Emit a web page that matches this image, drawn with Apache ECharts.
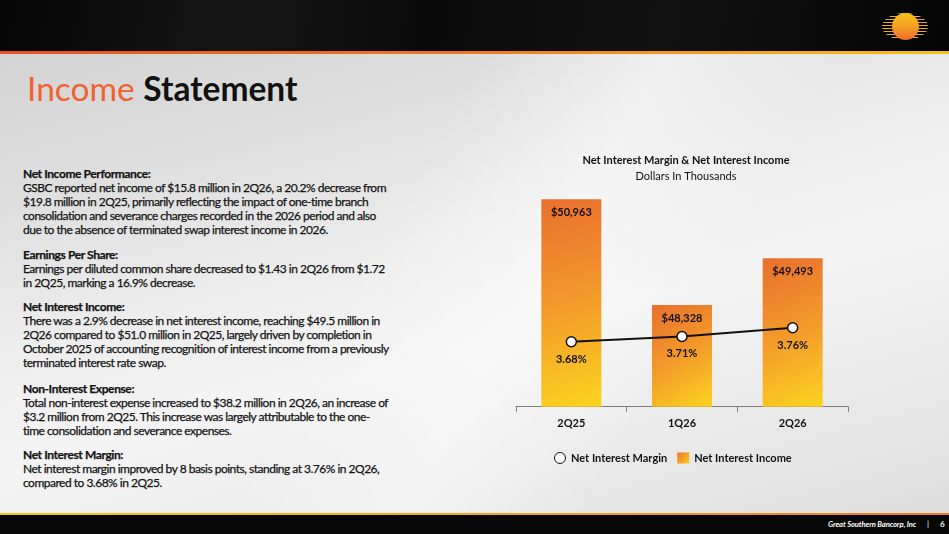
<!DOCTYPE html>
<html>
<head>
<meta charset="utf-8">
<script src="https://cdn.jsdelivr.net/npm/echarts@6/dist/echarts.min.js"></script>
<style>
  html, body { margin:0; padding:0; width:949px; height:534px; overflow:hidden; }
  body { position:relative; font-family: Lato, "Open Sans", sans-serif;
    background: linear-gradient(165deg, #cfcfcf 0%, #dedede 25%, #ededed 45%, #f4f4f4 60%, #e9e9e9 80%, #dcdcdc 100%); }
  #sheen { position:absolute; left:0; top:54px; width:949px; height:460px;
    background: linear-gradient(120deg, rgba(255,255,255,0) 40%, rgba(255,255,255,0.45) 55%, rgba(255,255,255,0) 70%); }
  #header { position:absolute; left:0; top:0; width:949px; height:51px;
    background: linear-gradient(100deg, #050505 0%, #161616 25%, #0a0a0a 45%, #121212 70%, #040404 100%); }
  #hline { position:absolute; left:0; top:51px; width:949px; height:3px;
    background: linear-gradient(90deg, #e8521f 0%, #ee7a22 50%, #f6c418 100%); }
  #fline { position:absolute; left:0; top:513px; width:949px; height:2px;
    background: linear-gradient(90deg, #f6c418 0%, #f3a820 50%, #ee7a22 100%); }
  #footer { position:absolute; left:0; top:515px; width:949px; height:19px; background:#070707; }
  #ftext { position:absolute; top:519px; left:828px; color:#fff; font-style:italic; font-weight:bold;
    font-size:7.6px; white-space:nowrap; letter-spacing:-0.1px; }
  #fpage { position:absolute; top:519px; left:940px; color:#fff; font-weight:bold; font-size:8px; }
  #fbar { position:absolute; top:519px; left:927px; color:#fff; font-size:8px; }
  #title { position:absolute; left:27px; top:72px; font-size:33.5px; line-height:33px; white-space:nowrap; }
  #title .o { color:#f0622f; font-weight:normal; }
  #title .b { color:#111; font-weight:bold; }
  .para { position:absolute; left:23px; font-size:12px; line-height:14.2px; color:#141414;
    white-space:nowrap; letter-spacing:-0.5px; -webkit-text-stroke:0.25px #141414; }
  .para .h { font-weight:bold; letter-spacing:-0.4px; }
  #logo { position:absolute; left:882px; top:13px; width:46px; height:27px; }
  #logo .stripes { position:absolute; left:0; top:0; width:46px; height:27px; border-radius:50%;
    background: repeating-linear-gradient(180deg, #f3b01e 0px, #f3a01e 1.4px, #000 1.4px, #000 3px); }
  #logo .sun { position:absolute; left:9.5px; top:0; width:27px; height:27px; border-radius:50%;
    background: linear-gradient(180deg, #f8c51c 0%, #f49a24 55%, #ec6a2a 100%); }
  #chart { position:absolute; left:0; top:0; width:949px; height:534px; }
</style>
</head>
<body>
<div id="sheen"></div>
<div id="header"></div>
<div id="hline"></div>
<div id="logo"><div class="stripes"></div><div class="sun"></div></div>
<div id="title"><span class="o">Income</span> <span class="b">Statement</span></div>

<div class="para" style="top:166.5px">
<span class="h">Net Income Performance:</span><br>
GSBC reported net income of $15.8 million in 2Q26, a 20.2% decrease from<br>
$19.8 million in 2Q25, primarily reflecting the impact of one-time branch<br>
consolidation and severance charges recorded in the 2026 period and also<br>
due to the absence of terminated swap interest income in 2026.
</div>
<div class="para" style="top:248px">
<span class="h">Earnings Per Share:</span><br>
Earnings per diluted common share decreased to $1.43 in 2Q26 from $1.72<br>
in 2Q25, marking a 16.9% decrease.
</div>
<div class="para" style="top:299.5px">
<span class="h">Net Interest Income:</span><br>
There was a 2.9% decrease in net interest income, reaching $49.5 million in<br>
2Q26 compared to $51.0 million in 2Q25, largely driven by completion in<br>
October 2025 of accounting recognition of interest income from a previously<br>
terminated interest rate swap.
</div>
<div class="para" style="top:381.5px">
<span class="h">Non-Interest Expense:</span><br>
Total non-interest expense increased to $38.2 million in 2Q26, an increase of<br>
$3.2 million from 2Q25. This increase was largely attributable to the one-<br>
time consolidation and severance expenses.
</div>
<div class="para" style="top:447.5px">
<span class="h">Net Interest Margin:</span><br>
Net interest margin improved by 8 basis points, standing at 3.76% in 2Q26,<br>
compared to 3.68% in 2Q25.
</div>

<div id="fline"></div>
<div id="footer"></div>
<div id="ftext">Great Southern Bancorp, Inc</div>
<div id="fbar">|</div>
<div id="fpage">6</div>

<div id="chart"></div>
<script>
const categories = ['2Q25', '1Q26', '2Q26'];
const netInterestIncome = [50963, 48328, 49493];
const netInterestMargin = [3.68, 3.71, 3.76];
const chartTitle = 'Net Interest Margin & Net Interest Income';
const chartSubtitle = 'Dollars In Thousands';
const seriesNames = ['Net Interest Margin', 'Net Interest Income'];

const FONT = 'Lato, "Open Sans", sans-serif';
const barGradient = new echarts.graphic.LinearGradient(0, 0, 1, 1, [
  { offset: 0, color: '#e96f2e' },
  { offset: 0.5, color: '#f39a2b' },
  { offset: 1, color: '#fbd41f' }
]);
const legendGradient = new echarts.graphic.LinearGradient(0, 0, 1, 1, [
  { offset: 0, color: '#ec702c' },
  { offset: 1, color: '#fbd020' }
]);

const chart = echarts.init(document.getElementById('chart'), null, { renderer: 'canvas' });
chart.setOption({
  backgroundColor: 'transparent',
  animation: false,
  title: {
    text: chartTitle,
    subtext: chartSubtitle,
    left: 681,
    top: 150,
    textAlign: 'center',
    itemGap: 5,
    textStyle: { fontFamily: FONT, fontSize: 11, fontWeight: 'bold', color: '#111' },
    subtextStyle: { fontFamily: FONT, fontSize: 11, color: '#111' }
  },
  legend: {
    left: 549,
    top: 447,
    itemGap: 10,
    itemWidth: 12,
    itemHeight: 11,
    textStyle: { fontFamily: FONT, fontSize: 11, fontWeight: 'bold', color: '#111' },
    data: [
      { name: seriesNames[0], icon: 'circle', itemStyle: { color: '#fff', borderColor: '#111', borderWidth: 1 } },
      { name: seriesNames[1], icon: 'rect', itemStyle: { color: legendGradient } }
    ]
  },
  grid: { left: 516, top: 190, width: 332, height: 216.7, containLabel: false },
  xAxis: {
    type: 'category',
    data: categories,
    boundaryGap: true,
    axisLine: { lineStyle: { color: '#7a7a7a', width: 1 } },
    axisTick: { show: true, length: 5, alignWithLabel: false, lineStyle: { color: '#7a7a7a' } },
    axisLabel: { margin: 11, fontFamily: FONT, fontSize: 11, fontWeight: 'bold', color: '#111' }
  },
  yAxis: [
    { type: 'value', min: 45792, max: 51195, show: false, splitLine: { show: false } },
    { type: 'value', min: 3.309, max: 4.547, show: false, splitLine: { show: false } }
  ],
  series: [
    {
      name: seriesNames[1],
      type: 'bar',
      yAxisIndex: 0,
      data: netInterestIncome,
      barWidth: 60,
      itemStyle: { color: barGradient },
      label: {
        show: true,
        position: 'insideTop',
        distance: 8,
        fontFamily: FONT, fontSize: 11, fontWeight: 'bold', color: '#111',
        formatter: p => '$' + p.value.toLocaleString('en-US')
      }
    },
    {
      name: seriesNames[0],
      type: 'line',
      yAxisIndex: 1,
      data: netInterestMargin,
      symbol: 'circle',
      symbolSize: 10,
      itemStyle: { color: '#fff', borderColor: '#111', borderWidth: 1.5 },
      lineStyle: { color: '#111', width: 2 },
      label: {
        show: true,
        position: 'bottom',
        distance: 6,
        fontFamily: FONT, fontSize: 11, fontWeight: 'bold', color: '#111',
        formatter: p => p.value.toFixed(2) + '%'
      },
      z: 5
    }
  ]
});
</script>
</body>
</html>
